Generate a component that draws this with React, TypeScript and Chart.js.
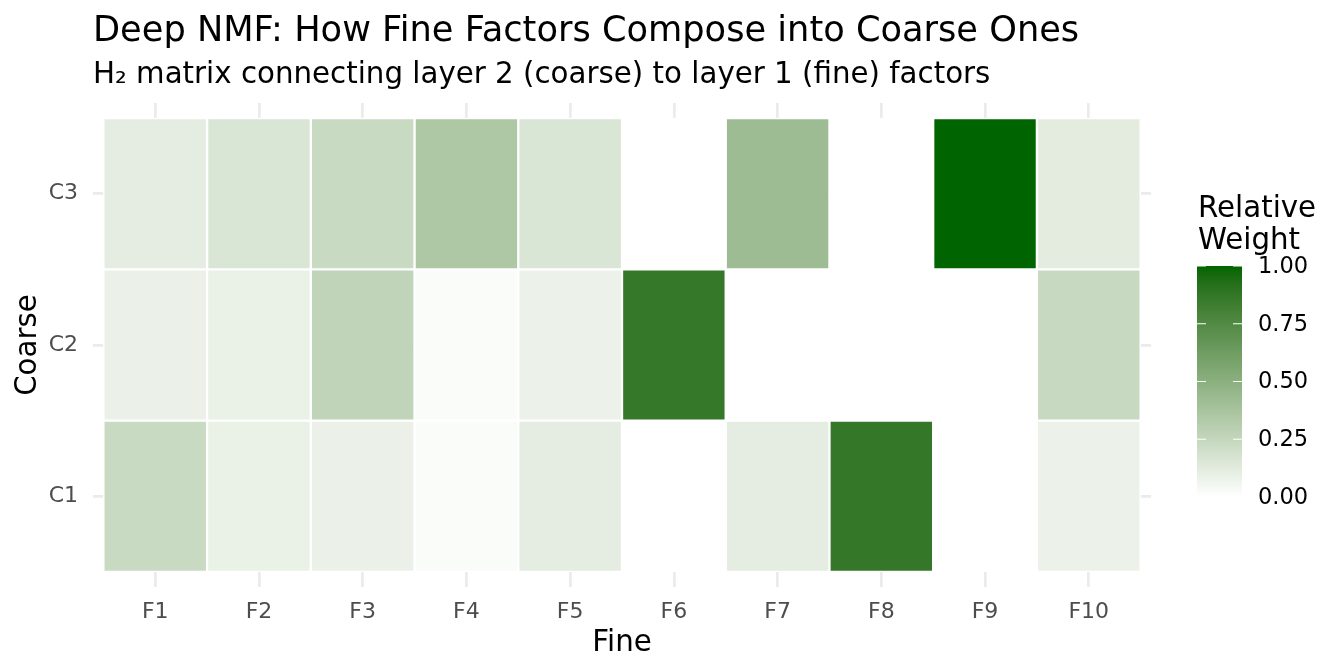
import React, { useEffect, useRef } from "react";
import { Chart, registerables } from "chart.js";

Chart.register(...registerables);

// ---------------- data ----------------
const fineLabels = ["F1", "F2", "F3", "F4", "F5", "F6", "F7", "F8", "F9", "F10"];
const coarseLabels = ["C1", "C2", "C3"];
const weightsC1 = [0.23, 0.09, 0.085, 0.02, 0.11, 0, 0.11, 0.87, 0, 0.08];
const weightsC2 = [0.085, 0.09, 0.27, 0.02, 0.08, 0.865, 0, 0, 0, 0.24];
const weightsC3 = [0.11, 0.16, 0.23, 0.35, 0.16, 0, 0.42, 0, 1.0, 0.12];
const legendBreaks = [0, 0.25, 0.5, 0.75, 1.0];
const legendLabels = ["0.00", "0.25", "0.50", "0.75", "1.00"];

const titleText = "Deep NMF: How Fine Factors Compose into Coarse Ones";
const subtitleText = "H\u2082 matrix connecting layer 2 (coarse) to layer 1 (fine) factors";
const xTitle = "Fine";
const yTitle = "Coarse";
const legendTitle = ["Relative", "Weight"];

// ---------------- colour scale (Lab interpolation like ggplot) ----------------
const LOW = [255, 255, 255];
const HIGH = [0, 100, 0];

function toLin(c: number) {
  c /= 255;
  return c <= 0.04045 ? c / 12.92 : Math.pow((c + 0.055) / 1.055, 2.4);
}
function fromLin(c: number) {
  const v = c <= 0.0031308 ? 12.92 * c : 1.055 * Math.pow(c, 1 / 2.4) - 0.055;
  return Math.round(Math.max(0, Math.min(1, v)) * 255);
}
function rgbToLab(rgb: number[]) {
  const R = toLin(rgb[0]), G = toLin(rgb[1]), B = toLin(rgb[2]);
  const X = (0.4124 * R + 0.3576 * G + 0.1805 * B) / 0.95047;
  const Y = 0.2126 * R + 0.7152 * G + 0.0722 * B;
  const Z = (0.0193 * R + 0.1192 * G + 0.9505 * B) / 1.08883;
  const f = (t: number) => (t > 0.008856 ? Math.cbrt(t) : 7.787 * t + 16 / 116);
  const fx = f(X), fy = f(Y), fz = f(Z);
  return [116 * fy - 16, 500 * (fx - fy), 200 * (fy - fz)];
}
function labToRgb(lab: number[]) {
  const fy = (lab[0] + 16) / 116;
  const fx = fy + lab[1] / 500;
  const fz = fy - lab[2] / 200;
  const inv = (t: number) => (t * t * t > 0.008856 ? t * t * t : (t - 16 / 116) / 7.787);
  const X = inv(fx) * 0.95047, Y = inv(fy), Z = inv(fz) * 1.08883;
  const R = 3.2406 * X - 1.5372 * Y - 0.4986 * Z;
  const G = -0.9689 * X + 1.8758 * Y + 0.0415 * Z;
  const B = 0.0557 * X - 0.204 * Y + 1.057 * Z;
  return [fromLin(R), fromLin(G), fromLin(B)];
}
const LOW_LAB = rgbToLab(LOW);
const HIGH_LAB = rgbToLab(HIGH);
function weightColor(v: number) {
  const t = Math.max(0, Math.min(1, v));
  const lab = LOW_LAB.map((l, i) => l + (HIGH_LAB[i] - l) * t);
  const c = labToRgb(lab);
  return `rgb(${c[0]},${c[1]},${c[2]})`;
}

const FONT = "'DejaVu Sans', sans-serif";

const textPlugin = {
  id: "ggText",
  afterDraw(chart: any) {
    const ctx = chart.ctx as CanvasRenderingContext2D;
    const area = chart.chartArea;
    ctx.save();
    ctx.fillStyle = "#000000";
    ctx.textBaseline = "alphabetic";
    // titles
    ctx.textAlign = "left";
    ctx.font = `35.2px ${FONT}`;
    ctx.fillText(titleText, area.left, 41);
    ctx.font = `29.3px ${FONT}`;
    ctx.fillText(subtitleText, area.left, 83);
    // axis titles
    ctx.textAlign = "center";
    ctx.fillText(xTitle, (area.left + area.right) / 2, 651);
    ctx.save();
    ctx.translate(36, (area.top + area.bottom) / 2);
    ctx.rotate(-Math.PI / 2);
    ctx.fillText(yTitle, 0, 0);
    ctx.restore();

    // legend
    const barLeft = 1197;
    const barWidth = 45;
    const barTop = 266;
    const barBottom = 497;
    const pos = (v: number) => barBottom - (barBottom - barTop) * v;
    ctx.textAlign = "left";
    ctx.font = `29.3px ${FONT}`;
    ctx.fillText(legendTitle[0], 1198, 217);
    ctx.fillText(legendTitle[1], 1198, 249);
    const grad = ctx.createLinearGradient(0, barBottom, 0, barTop);
    for (let i = 0; i <= 40; i++) {
      grad.addColorStop(i / 40, weightColor(i / 40));
    }
    ctx.fillStyle = grad;
    ctx.fillRect(barLeft, barTop, barWidth, barBottom - barTop);
    ctx.strokeStyle = "#ffffff";
    ctx.lineWidth = 1.2;
    const tick = barWidth / 5;
    legendBreaks.forEach((b) => {
      const y = pos(b);
      ctx.beginPath();
      ctx.moveTo(barLeft, y);
      ctx.lineTo(barLeft + tick, y);
      ctx.moveTo(barLeft + barWidth - tick, y);
      ctx.lineTo(barLeft + barWidth, y);
      ctx.stroke();
    });
    ctx.fillStyle = "#000000";
    ctx.font = `22.5px ${FONT}`;
    ctx.textBaseline = "middle";
    legendBreaks.forEach((b, i) => {
      ctx.fillText(legendLabels[i], 1258, pos(b) + 1);
    });
    ctx.restore();
  },
};

export default function App() {
  const ref = useRef<HTMLCanvasElement | null>(null);
  useEffect(() => {
    if (!ref.current) return;
    const rows = [weightsC1, weightsC2, weightsC3];
    const chart = new Chart(ref.current, {
      type: "bar",
      data: {
        datasets: coarseLabels.map((c, r) => ({
          label: c,
          data: fineLabels.map((_, i) => ({ x: i + 1, y: [r + 0.5, r + 1.5] })),
          backgroundColor: rows[r].map((v) => weightColor(v)),
          borderColor: "#ffffff",
          borderWidth: 1.5,
          borderSkipped: false,
          barPercentage: 1,
          categoryPercentage: 1,
          grouped: false,
        })) as any,
      },
      options: {
        responsive: false,
        animation: false,
        devicePixelRatio: 1,
        layout: { padding: { top: 103, right: 193, left: 0, bottom: 0 } },
        plugins: {
          legend: { display: false },
          tooltip: { enabled: false },
          title: { display: false },
        },
        scales: {
          x: {
            type: "linear",
            offset: false,
            min: 0.4,
            max: 10.6,
            afterBuildTicks: (s: any) => {
              s.ticks = fineLabels.map((_, i) => ({ value: i + 1 }));
            },
            afterFit: (s: any) => {
              s.height = 85;
            },
            grid: { color: "#ebebeb", lineWidth: 2.7, drawTicks: false, offset: false },
            border: { display: false },
            ticks: {
              autoSkip: false,
              maxRotation: 0,
              padding: 12,
              color: "#4d4d4d",
              font: { family: FONT, size: 22 },
              callback: (v: any) => fineLabels[Math.round(Number(v)) - 1] ?? "",
            },
          },
          y: {
            type: "linear",
            offset: false,
            min: 0.4,
            max: 3.6,
            afterBuildTicks: (s: any) => {
              s.ticks = coarseLabels.map((_, i) => ({ value: i + 1 }));
            },
            afterFit: (s: any) => {
              s.width = 93;
            },
            grid: { color: "#ebebeb", lineWidth: 2.7, drawTicks: false },
            border: { display: false },
            ticks: {
              autoSkip: false,
              padding: 15,
              color: "#4d4d4d",
              font: { family: FONT, size: 22 },
              callback: (v: any) => coarseLabels[Math.round(Number(v)) - 1] ?? "",
            },
          },
        },
      } as any,
      plugins: [textPlugin],
    });
    return () => chart.destroy();
  }, []);
  return (
    <div style={{ position: "absolute", left: 0, top: 0, width: 1344, height: 672, background: "#ffffff" }}>
      <canvas ref={ref} width={1344} height={672} style={{ display: "block" }} />
    </div>
  );
}
